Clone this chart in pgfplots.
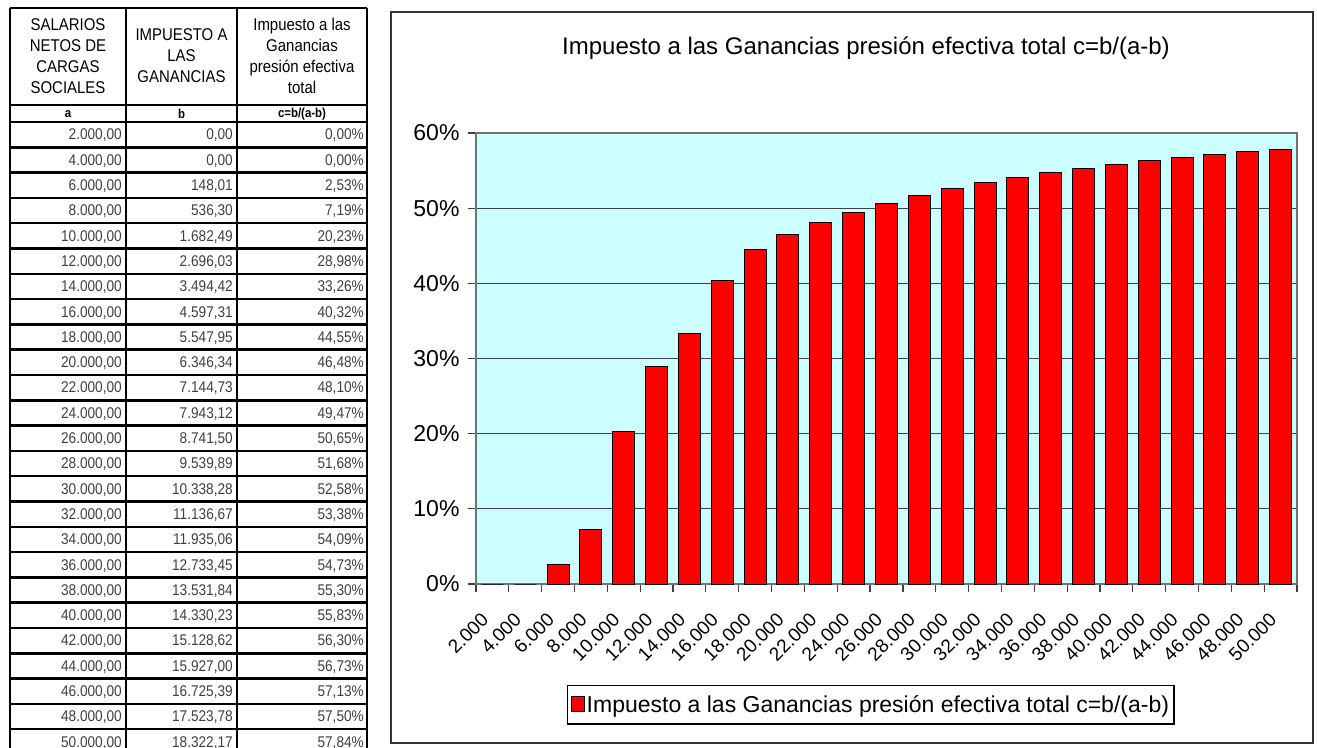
\documentclass[border=0pt]{standalone}
\usepackage{pgfplots}
\pgfplotsset{compat=1.18}
\usepackage{pgfplotstable}
\usepackage{fontspec}
\setmainfont{Liberation Sans}
\newfontfamily\tabfont[FakeStretch=0.88]{Liberation Sans}
\definecolor{bgcyan}{RGB}{204,255,255}
\definecolor{barred}{RGB}{255,0,0}

\pgfplotstableread{
a b c
2000 0.00 0.00
4000 0.00 0.00
6000 148.01 2.53
8000 536.30 7.19
10000 1682.49 20.23
12000 2696.03 28.98
14000 3494.42 33.26
16000 4597.31 40.32
18000 5547.95 44.55
20000 6346.34 46.48
22000 7144.73 48.10
24000 7943.12 49.47
26000 8741.50 50.65
28000 9539.89 51.68
30000 10338.28 52.58
32000 11136.67 53.38
34000 11935.06 54.09
36000 12733.45 54.73
38000 13531.84 55.30
40000 14330.23 55.83
42000 15128.62 56.30
44000 15927.00 56.73
46000 16725.39 57.13
48000 17523.78 57.50
50000 18322.17 57.84
}\datatable

\begin{document}
\begin{tikzpicture}[x=1pt,y=1pt]
\useasboundingbox (0,0) rectangle (1317,747);
\begin{scope}[shift={(0,747)}, y=-1pt]
  % ---- table ----
  \node[align=center, font=\tabfont\fontsize{17}{21}\selectfont] at (68,56)
    {SALARIOS\\NETOS DE\\CARGAS\\SOCIALES};
  \node[align=center, font=\tabfont\fontsize{17}{21}\selectfont] at (181.5,56)
    {IMPUESTO A\\LAS\\GANANCIAS};
  \node[align=center, font=\tabfont\fontsize{17}{21}\selectfont] at (302,56)
    {Impuesto a las\\Ganancias\\presión efectiva\\total};
  \node[font=\tabfont\bfseries\fontsize{13}{15}\selectfont] at (68,114) {a};
  \node[font=\tabfont\bfseries\fontsize{13}{15}\selectfont] at (181.5,114) {b};
  \node[font=\tabfont\bfseries\fontsize{13}{15}\selectfont] at (302,114) {c=b/(a-b)};
  \foreach \i in {0,...,24} {
    \pgfmathsetmacro\yy{122+25.3*\i+13.5}
    \pgfplotstablegetelem{\i}{a}\of\datatable \let\va\pgfplotsretval
    \pgfplotstablegetelem{\i}{b}\of\datatable \let\vb\pgfplotsretval
    \pgfplotstablegetelem{\i}{c}\of\datatable \let\vc\pgfplotsretval
    \node[anchor=east, text=black!75, font=\tabfont\fontsize{15.5}{18}\selectfont, inner sep=0pt] at (122,\yy)
      {\pgfmathprintnumber[fixed,fixed zerofill,precision=2,use comma,1000 sep={.},assume math mode=true]{\va}};
    \node[anchor=east, text=black!75, font=\tabfont\fontsize{15.5}{18}\selectfont, inner sep=0pt] at (233,\yy)
      {\pgfmathprintnumber[fixed,fixed zerofill,precision=2,use comma,1000 sep={.},assume math mode=true]{\vb}};
    \node[anchor=east, text=black!75, font=\tabfont\fontsize{15.5}{18}\selectfont, inner sep=0pt] at (364,\yy)
      {\pgfmathprintnumber[fixed,fixed zerofill,precision=2,use comma,1000 sep={.},assume math mode=true]{\vc}\%};
  }
  \foreach \xx in {10,126,237,367} {
    \draw[line width=2.5pt] (\xx,8) -- (\xx,770);
  }
  \draw[line width=2.5pt] (10,8) -- (367,8);
  \draw[line width=2.5pt] (10,105) -- (367,105);
  \foreach \k in {0,...,25} {
    \draw[line width=2.5pt] (10,122+25.3*\k) -- (367,122+25.3*\k);
  }
  % ---- chart frame and title ----
  \draw[line width=2pt, black!80] (391,12) rectangle (1313,743);
  \node[font=\fontsize{24}{28}\selectfont] at (866,48)
    {Impuesto a las Ganancias presión efectiva total c=b/(a-b)};
\end{scope}

\begin{axis}[
  at={(476pt,163pt)}, anchor=south west,
  scale only axis, width=821pt, height=451pt,
  xmin=-0.5, xmax=24.5, ymin=0, ymax=60,
  ybar, bar width=22pt,
  ytick={0,10,...,60},
  yticklabel={\pgfmathprintnumber{\tick}\%},
  /pgf/number format/assume math mode=true,
  ymajorgrids,
  major grid style={black!75, line width=1.2pt},
  xtick={0,...,24},
  xticklabels={2.000,4.000,6.000,8.000,10.000,12.000,14.000,16.000,18.000,20.000,22.000,24.000,26.000,28.000,30.000,32.000,34.000,36.000,38.000,40.000,42.000,44.000,46.000,48.000,50.000},
  minor xtick={-0.5,0.5,...,24.5},
  xtick pos=bottom, ytick pos=left,
  tick align=outside,
  major tick length=8pt, minor tick length=8pt,
  major x tick style={draw=none},
  tick style={black!75, line width=1.2pt},
  x tick label style={xshift=-5pt, yshift=-22pt, rotate=45, anchor=east, font=\fontsize{19}{22}\selectfont},
  y tick label style={xshift=-5pt, font=\fontsize{23}{27}\selectfont},
  axis background/.style={fill=bgcyan},
  axis line style={black!55, line width=1.2pt},
  legend style={at={(0.481,-0.268)}, anchor=center, draw=black, line width=1.2pt, fill=white,
    font=\fontsize{23}{27}\selectfont, inner xsep=3pt, inner ysep=8pt},
  legend image code/.code={\draw[#1, line width=1pt] (0pt,-7pt) rectangle (13pt,8pt);},
]
\addplot[fill=barred, draw=black, line width=1pt] table[x expr=\coordindex, y=c] {\datatable};
\addlegendentry{Impuesto a las Ganancias presión efectiva total c=b/(a-b)}
\end{axis}
\end{tikzpicture}
\end{document}
